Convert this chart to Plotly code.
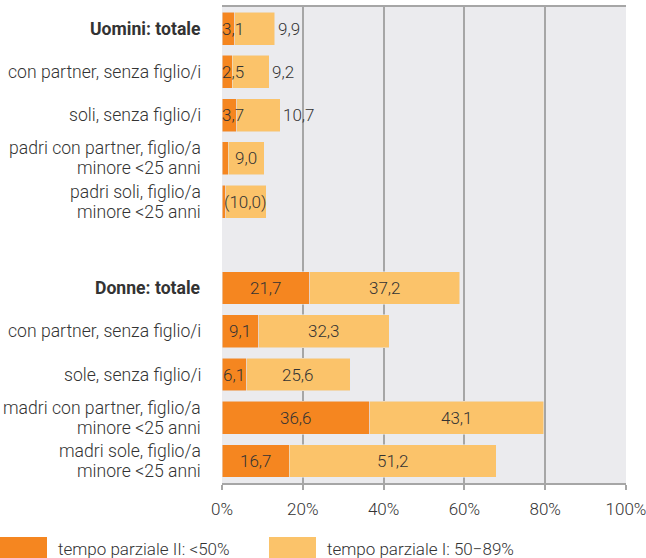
import plotly.graph_objects as go

categories = [
    "<b>Uomini: totale</b>",
    "con partner, senza figlio/i",
    "soli, senza figlio/i",
    "padri con partner, figlio/a<br>minore <25 anni",
    "padri soli, figlio/a<br>minore <25 anni",
    " ",
    "<b>Donne: totale</b>",
    "con partner, senza figlio/i ",
    "sole, senza figlio/i",
    "madri con partner, figlio/a<br>minore <25 anni",
    "madri sole, figlio/a<br>minore <25 anni",
]
parziale_II = [3.1, 2.5, 3.7, 1.5, 0.9, None, 21.7, 9.1, 6.1, 36.6, 16.7]
parziale_I = [9.9, 9.2, 10.7, 9.0, 10.0, None, 37.2, 32.3, 25.6, 43.1, 51.2]
labels_II = ["3,1", "2,5", "3,7", "", "", "", "21,7", "9,1", "6,1", "36,6", "16,7"]
labels_I = ["9,9", "9,2", "10,7", "9,0", "(10,0)", "", "37,2", "32,3", "25,6", "43,1", "51,2"]
# how labels are placed: "small" = orange at start, yellow outside; "center" = centered in segments
label_mode = ["small", "small", "small", "center", "center", None, "center", "center", "center", "center", "center"]
series_names = ["tempo parziale II: <50%", "tempo parziale I: 50\u221289%"]
tick_vals = [0, 20, 40, 60, 80, 100]
tick_text = ["0%", "20%", "40%", "60%", "80%", "100%"]

ORANGE = "#F58620"
YELLOW = "#FBC36A"
FONT = "Roboto"
TXT = "#333333"
GRID = "#A6A6A6"

fig = go.Figure()
fig.add_trace(go.Bar(y=categories, x=parziale_II, orientation="h", marker_color=ORANGE,
                     name=series_names[0], showlegend=False, hoverinfo="skip"))
fig.add_trace(go.Bar(y=categories, x=parziale_I, orientation="h", marker_color=YELLOW,
                     name=series_names[1], showlegend=False, hoverinfo="skip"))

annots = []
vfont = dict(family=FONT, size=17, color=TXT, weight=300)
cfont = dict(family=FONT, size=17.6, color=TXT, weight=300)
for cat, a, b, la, lb, mode in zip(categories, parziale_II, parziale_I, labels_II, labels_I, label_mode):
    if mode is None:
        continue
    # category label (as annotation lines, for tighter line spacing)
    lines = cat.strip().split("<br>")
    n = len(lines)
    for k, line in enumerate(lines):
        annots.append(dict(xref="paper", x=0, y=cat, text=line, xanchor="right", yanchor="middle",
                           xshift=-19, yshift=(n - 1) * 10 - 20 * k, showarrow=False, font=cfont))
    if mode == "small":
        annots.append(dict(x=0, y=cat, text=la, xanchor="left", showarrow=False, xshift=-2, font=vfont))
        annots.append(dict(x=a + b, y=cat, text=lb, xanchor="left", showarrow=False, xshift=1, font=vfont))
    else:
        if la:
            annots.append(dict(x=a / 2, y=cat, text=la, xanchor="center", showarrow=False, font=vfont))
        annots.append(dict(x=a + b / 2, y=cat, text=lb, xanchor="center", showarrow=False, font=vfont))

# legend drawn as swatches + text below the plot
W, H = 404.0, 476.0
def px(xp):
    return (xp - 222) / W
def py(yp):
    return (483 - yp) / H
shapes = []
for i, (col, x0) in enumerate([(ORANGE, 0), (YELLOW, 269)]):
    shapes.append(dict(type="rect", xref="paper", yref="paper", x0=px(x0), x1=px(x0 + 47),
                       y0=py(560), y1=py(537), fillcolor=col, line_width=0, layer="above"))
    annots.append(dict(xref="paper", yref="paper", x=px(x0 + 56), y=py(549), xanchor="left", yanchor="middle",
                       text=series_names[i], showarrow=False, font=dict(family=FONT, size=17, color=TXT, weight=300)))

fig.update_layout(
    barmode="stack",
    bargap=0.24,
    width=646, height=558,
    margin=dict(l=222, r=20, t=7, b=75, autoexpand=False),
    paper_bgcolor="white",
    plot_bgcolor="#EBEBEE",
    annotations=annots,
    shapes=shapes,
    font=dict(family=FONT, size=17, color=TXT, weight=300),
)
fig.update_xaxes(range=[0, 100], tickvals=tick_vals, ticktext=tick_text, showgrid=True,
                 gridcolor=GRID, gridwidth=2, showline=True, linecolor=GRID, linewidth=2,
                 mirror=True, ticks="outside", ticklen=5, tickwidth=2, tickcolor=GRID,
                 ticklabelstandoff=5, ticklabeloverflow="allow", zeroline=False, automargin=False,
                 tickfont=dict(family=FONT, size=17, color=TXT, weight=300))
fig.update_yaxes(categoryorder="array", categoryarray=categories, autorange="reversed",
                 showgrid=False, showline=False, ticks="", showticklabels=False, automargin=False)

fig.write_html("out.html", config={"displayModeBar": False},
               post_script="document.body.style.margin='0';document.body.style.overflow='hidden';")
